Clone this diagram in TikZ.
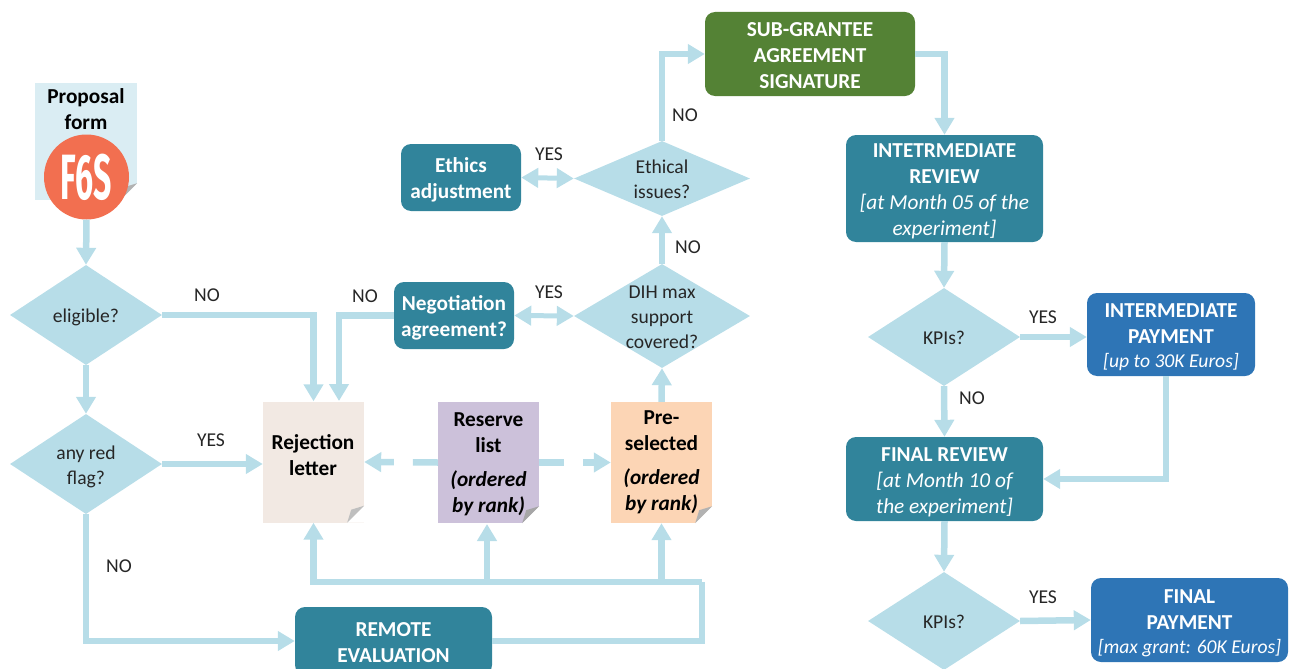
\documentclass[tikz,border=0pt]{standalone}
\usepackage{fontspec}
\setmainfont{Carlito}
\newfontfamily\fsfont{Fira Sans}
\usetikzlibrary{arrows.meta,shapes.geometric,calc}
\definecolor{linkc}{HTML}{B7DDE8}
\definecolor{teal}{HTML}{31849B}
\definecolor{grn}{HTML}{548235}
\definecolor{blu}{HTML}{2E75B6}
\definecolor{formc}{HTML}{DAEDF3}
\definecolor{rejc}{HTML}{F2E9E3}
\definecolor{resc}{HTML}{CCC1DA}
\definecolor{prec}{HTML}{FCD5B5}
\definecolor{fsc}{HTML}{F26F50}
\newcommand{\dt}[1]{\makebox[0pt]{\raisebox{-8pt}[0pt][0pt]{\begin{tabular}[c]{@{}c@{}}#1\end{tabular}}}}
\newcommand{\fold}[2]{\fill[white] ($(#1.south east)+(-17,0)$) -- ($(#1.south east)+(0,-17)$) -- (#1.south east) -- cycle;
  \fill[#2] ($(#1.south east)+(-17,0)$) -- ($(#1.south east)+(0,-17)$) -- ($(#1.south east)+(-13,-13)$) -- cycle;}
\tikzset{
  conn/.style={draw=linkc,line width=6.5pt,-{Triangle[length=17pt,width=19pt]}},
  plainconn/.style={draw=linkc,line width=6.5pt},
  both/.style={draw=linkc,line width=5pt,{Triangle[length=17pt,width=19pt]}-{Triangle[length=17pt,width=19pt]}},
  dia/.style={diamond,fill=linkc,inner sep=0pt,font=\fontsize{19.6}{25}\selectfont,text=black!85},
  box/.style={rectangle,rounded corners=10pt,inner sep=0pt,text=white,font=\fontsize{21.3}{26}\selectfont\bfseries},
  tealbox/.style={box,fill=teal},
  doc/.style={rectangle,inner sep=0pt,minimum width=101pt,minimum height=121pt},
  doctext/.style={inner sep=0pt,align=center,text=black,font=\fontsize{21.3}{26}\selectfont\bfseries},
  lab/.style={inner sep=0pt,text=black!85,font=\fontsize{19.6}{22}\selectfont},
}
\begin{document}
\begin{tikzpicture}[x=1pt,y=-1pt]
\useasboundingbox (0,0) rectangle (1290,669);
\clip (0,0) rectangle (1290,669);
% documents
\node[doc,fill=formc,minimum width=102pt,minimum height=117pt] (form) at (86,141.5) {};
\fold{form}{black!30}
\node[doctext] (formT) at (86,109) {Proposal\\form};
\node[circle,fill=fsc,inner sep=0pt,minimum size=85pt,text=white] (fs) at (86.5,177) {\scalebox{0.5}[1]{\fsfont\fontsize{64}{64}\selectfont\bfseries F6S}};
\node[doc,fill=rejc] (rej) at (313.5,462) {};
\fold{rej}{black!25}
\node[doctext] (rejT) at (313,455) {Rejection\\letter};
\node[doc,fill=resc] (res) at (488.5,462.5) {};
\fold{res}{black!35}
\node[doctext] (resT) at (488.5,464) {Reserve\\list\\[8pt]\itshape (ordered\\\itshape by rank)};
\node[doc,fill=prec] (pre) at (661.5,462.5) {};
\fold{pre}{black!30}
\node[doctext] (preT) at (661.5,462) {Pre-\\selected\\[8pt]\itshape (ordered\\\itshape by rank)};
% diamonds
\node[dia,minimum width=152pt,minimum height=100pt] (elig) at (86,315) {\dt{eligible?}};
\node[dia,minimum width=152pt,minimum height=100pt] (flag) at (86,464) {\dt{any red\\flag?}};
\node[dia,minimum width=176pt,minimum height=75pt] (eth) at (662,178.5) {\dt{Ethical\\issues?}};
\node[dia,minimum width=176pt,minimum height=104pt] (dih) at (662,316) {\dt{DIH max\\support\\covered?}};
\node[dia,minimum width=152pt,minimum height=98pt] (kpa) at (944,337) {\dt{KPIs?}};
\node[dia,minimum width=152pt,minimum height=98pt] (kpb) at (944,621) {\dt{KPIs?}};
% boxes
\node[tealbox,minimum width=120pt,minimum height=67pt] (ethbox) at (461,177.5) {\dt{Ethics\\adjustment}};
\node[tealbox,minimum width=120pt,minimum height=67pt] (neg) at (454,315.5) {\dt{Negotiation\\agreement?}};
\node[box,fill=grn,minimum width=210pt,minimum height=84pt] (sub) at (810,54) {\dt{SUB-GRANTEE\\AGREEMENT\\SIGNATURE}};
\node[tealbox,minimum width=197pt,minimum height=107pt] (irev) at (944.5,188.5) {\dt{INTETRMEDIATE\\REVIEW\\{\mdseries\itshape [at Month 05 of the}\\{\mdseries\itshape experiment]}}};
\node[tealbox,minimum width=197pt,minimum height=84pt] (frev) at (944.5,479) {\dt{FINAL REVIEW\\{\mdseries\itshape [at Month 10 of}\\{\mdseries\itshape the experiment]}}};
\node[box,fill=blu,minimum width=168pt,minimum height=83pt] (ipay) at (1171,334.5) {\dt{INTERMEDIATE\\PAYMENT\\[-2pt]{\mdseries\itshape\fontsize{19.6}{24}\selectfont [up to 30K Euros]}}};
\node[box,fill=blu,minimum width=197pt,minimum height=84pt] (fpay) at (1189.5,620) {\dt{FINAL\\PAYMENT\\[-2pt]{\mdseries\itshape\fontsize{19.6}{24}\selectfont [max grant: 60K Euros]}}};
\node[tealbox,minimum width=197pt,minimum height=68pt] (rem) at (393.5,641) {\dt{REMOTE\\EVALUATION}};
% bends
\coordinate (negdrop) at (339,401);
\coordinate (busR) at (702,582);
\coordinate (resin) at (487,524);
\coordinate (ipaybend) at (1166,479);
% connectors
\draw[conn] (fs.south) -- (elig.north);
\draw[conn] (elig.south) -- (flag.north);
\draw[conn] (elig.east) -| (rej.north);
\draw[conn] (flag.east) -- (flag.east -| rej.west);
\draw[conn] (flag.south) |- (rem.west);
\draw[plainconn] (rem.east) -| (busR);
\draw[conn] (busR) -| (rej.south);
\draw[conn] (resin |- busR) -- (resin);
\draw[conn] (pre.south |- busR) -- (pre.south);
\draw[conn,dash pattern=on 25pt off 19pt on 40pt] (res.west) -- (rej.east);
\draw[conn,dash pattern=on 25pt off 19pt on 40pt] (res.east) -- (pre.west);
\draw[conn] (pre.north) -- (dih.south);
\draw[both] (dih.west) -- (neg.east);
\draw[conn] (neg.west) -| (negdrop);
\draw[conn] (dih.north) -- (eth.south);
\draw[both] (eth.west) -- (ethbox.east);
\draw[conn] (eth.north) |- (sub.west);
\draw[conn] (sub.east) -| (irev.north);
\draw[conn] (irev.south) -- (kpa.north);
\draw[conn] (kpa.east) -- (kpa.east -| ipay.west);
\draw[conn] (kpa.south) -- (frev.north);
\draw[conn] (ipay.south -| ipaybend) -- (ipaybend) -- (frev.east);
\draw[conn] (frev.south) -- (kpb.north);
\draw[conn] (kpb.east) -- (fpay.west);
% labels
\node[lab] (l1) at (207,295) {NO};
\node[lab] (l2) at (211,440) {YES};
\node[lab] (l3) at (119,566) {NO};
\node[lab] (l4) at (365,296) {NO};
\node[lab] (l5) at (549,292) {YES};
\node[lab] (l6) at (549,154) {YES};
\node[lab] (l7) at (688,247) {NO};
\node[lab] (l8) at (685,115) {NO};
\node[lab] (l9) at (1043,317) {YES};
\node[lab] (l10) at (972,398) {NO};
\node[lab] (l11) at (1043,597) {YES};
\end{tikzpicture}
\end{document}
